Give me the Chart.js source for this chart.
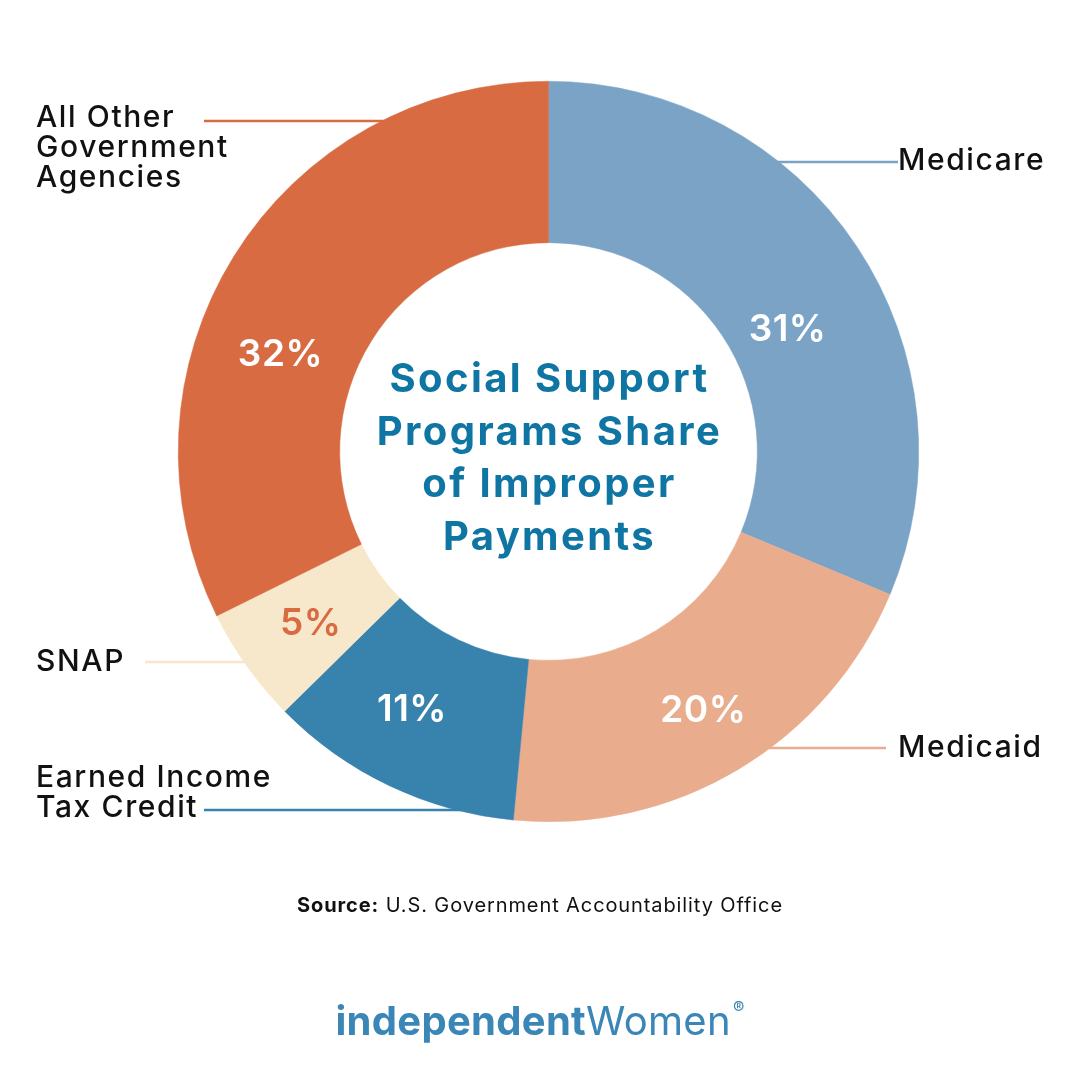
<!DOCTYPE html>
<html>
<head>
<meta charset="utf-8">
<script src="https://cdn.jsdelivr.net/npm/chart.js@4/dist/chart.umd.min.js"></script>
<style>
  html,body{margin:0;padding:0;background:#fff;}
  #c{display:block;}
</style>
</head>
<body>
<canvas id="c" width="1080" height="1080"></canvas>
<script>
// ---- data ----
const categories = ['Medicare', 'Medicaid', 'Earned Income Tax Credit', 'SNAP', 'All Other Government Agencies'];
const shares = [31, 20, 11, 5, 32];
const valueLabels = ['31%', '20%', '11%', '5%', '32%'];
const calloutText = [['Medicare'], ['Medicaid'], ['Earned Income', 'Tax Credit'], ['SNAP'], ['All Other', 'Government', 'Agencies']];
const titleLines = ['Social Support', 'Programs Share', 'of Improper', 'Payments'];
const sourceBold = 'Source:';
const sourceText = ' U.S. Government Accountability Office';

// ---- styles / layout ----
const sliceColors = ['#7ba3c6', '#e9ad8e', '#3783ae', '#f8e8cb', '#d86b42'];
const valueColors = ['#ffffff', '#ffffff', '#ffffff', '#d86b42', '#ffffff'];
const valueNudge = [[-2, 39], [6, 11], [-12, -3], [-2, 4], [-22, 56]];
const callouts = [
  {side: 'right', x: 898, y: 161, lineY: 162, lineEnd: 898},
  {side: 'right', x: 898, y: 748, lineY: 748, lineEnd: 886},
  {side: 'left',  x: 36,  y: 778, lineY: 810, lineEnd: 204},
  {side: 'left',  x: 36,  y: 662, lineY: 662, lineEnd: 145},
  {side: 'left',  x: 36,  y: 118, lineY: 121, lineEnd: 204}
];
const FONT = 'Inter, "Open Sans", "DejaVu Sans", sans-serif';
const titleColor = '#0f75a3';
const logoColor = '#3a86b6';

function spacing(ctx, px) { if ('letterSpacing' in ctx) ctx.letterSpacing = px + 'px'; }

const overlay = {
  id: 'overlay',
  afterDraw(chart) {
    const ctx = chart.ctx;
    const meta = chart.getDatasetMeta(0);
    const arc0 = meta.data[0];
    const cx = arc0.x, cy = arc0.y, R = arc0.outerRadius;

    ctx.save();
    ctx.textAlign = 'center';
    ctx.textBaseline = 'middle';
    ctx.font = '600 37px ' + FONT;
    spacing(ctx, 0.5);
    meta.data.forEach((arc, i) => {
      const p = arc.tooltipPosition();
      ctx.fillStyle = valueColors[i];
      ctx.fillText(valueLabels[i], p.x + valueNudge[i][0], p.y + valueNudge[i][1]);
    });

    ctx.lineWidth = 2.5;
    callouts.forEach((c, i) => {
      const dy = c.lineY - cy;
      const dx = Math.sqrt(Math.max(0, R * R - dy * dy));
      const edgeX = c.side === 'right' ? cx + dx - 6 : cx - dx + 6;
      ctx.strokeStyle = sliceColors[i];
      ctx.beginPath();
      ctx.moveTo(edgeX, c.lineY);
      ctx.lineTo(c.lineEnd, c.lineY);
      ctx.stroke();
    });

    ctx.fillStyle = '#111111';
    ctx.font = '500 30px ' + FONT;
    spacing(ctx, 1.6);
    ctx.textAlign = 'left';
    callouts.forEach((c, i) => {
      calloutText[i].forEach((t, k) => {
        ctx.fillText(t, c.x, c.y + k * 30);
      });
    });

    ctx.fillStyle = titleColor;
    ctx.font = '700 40px ' + FONT;
    spacing(ctx, 2.4);
    ctx.textAlign = 'center';
    titleLines.forEach((t, k) => {
      ctx.fillText(t, cx + 1, 380 + k * 52.7);
    });

    spacing(ctx, 0.9);
    ctx.font = '700 20px ' + FONT;
    const wB = ctx.measureText(sourceBold).width;
    ctx.font = '400 20px ' + FONT;
    const wR = ctx.measureText(sourceText).width;
    let sx = 540 - (wB + wR) / 2;
    ctx.textAlign = 'left';
    ctx.fillStyle = '#111111';
    ctx.font = '700 20px ' + FONT;
    ctx.fillText(sourceBold, sx, 906);
    ctx.font = '400 20px ' + FONT;
    ctx.fillText(sourceText, sx + wB, 906);

    ctx.textBaseline = 'alphabetic';
    ctx.fillStyle = logoColor;
    spacing(ctx, 0.3);
    const base = 1035;
    ctx.font = '700 40px ' + FONT;
    const w1 = ctx.measureText('independent').width;
    ctx.font = '400 40px ' + FONT;
    const w2 = ctx.measureText('Women').width;
    ctx.font = '400 17px ' + FONT;
    const w3 = ctx.measureText('®').width;
    const total = w1 + w2 + w3 + 2;
    let lx = 540 - total / 2;
    ctx.font = '700 40px ' + FONT;
    ctx.fillText('independent', lx, base);
    ctx.font = '400 40px ' + FONT;
    ctx.fillText('Women', lx + w1, base);
    ctx.font = '400 17px ' + FONT;
    ctx.fillText('®', lx + w1 + w2 + 2, base - 21);
    ctx.restore();
  }
};

new Chart(document.getElementById('c'), {
  type: 'doughnut',
  data: {
    labels: categories,
    datasets: [{
      data: shares,
      backgroundColor: sliceColors,
      borderColor: sliceColors,
      borderWidth: 0.5
    }]
  },
  options: {
    responsive: false,
    animation: false,
    devicePixelRatio: 1,
    cutout: '56.4%',
    layout: {padding: {left: 178, right: 161, top: 81, bottom: 258}},
    plugins: {legend: {display: false}, tooltip: {enabled: false}}
  },
  plugins: [overlay]
});
</script>
</body>
</html>
